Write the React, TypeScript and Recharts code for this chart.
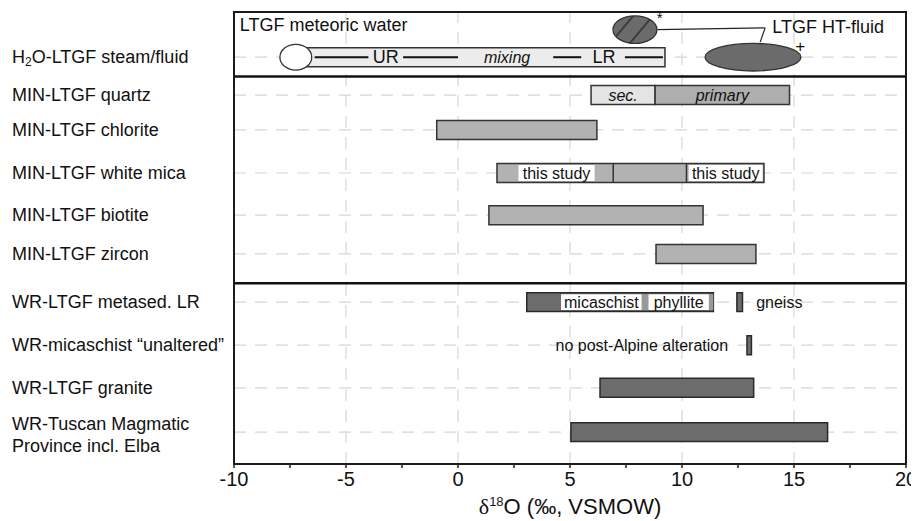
import React from "react";
import {
  ComposedChart,
  XAxis,
  YAxis,
  Scatter,
  ReferenceArea,
  ReferenceLine,
  ReferenceDot,
} from "recharts";

// Rows top to bottom. Row positions are in "row units" on the y axis (0 = top of the frame).
const rowLabels = [
  "H2O-LTGF steam/fluid",
  "MIN-LTGF quartz",
  "MIN-LTGF chlorite",
  "MIN-LTGF white mica",
  "MIN-LTGF biotite",
  "MIN-LTGF zircon",
  "WR-LTGF metased. LR",
  "WR-micaschist \u201cunaltered\u201d",
  "WR-LTGF granite",
  "WR-Tuscan Magmatic\nProvince incl. Elba",
];
const rowPos = [1.05, 1.93, 2.74, 3.74, 4.72, 5.62, 6.74, 7.74, 8.73, 9.76];
const groupBreaks = [1.5, 6.3];

const xTicks = [-10, -7.5, -5, -2.5, 0, 2.5, 5, 7.5, 10, 12.5, 15, 17.5, 20];
const gridX = [-5, 0, 5, 10, 15];

// δ18O ranges (‰)
const fluidRange = { row: 0, from: -6.75, to: 9.24 };
const fluidSegments = [
  [-6.4, -4.0],
  [-2.45, 0],
  [4.25, 5.5],
  [7.45, 9.15],
];
const fluidTags = [
  { x: -3.22, text: "UR", italic: false },
  { x: 2.19, text: "mixing", italic: true },
  { x: 6.52, text: "LR", italic: false },
];
const meteoric = { from: -7.95, to: -6.53 };
const htHatched = { from: 6.92, to: 8.88, y: 0.41 };
const htFluid = { from: 11.03, to: 15.31 };
const htConnector = [
  { x: 8.9, y: 0.41 },
  { x: 13.71, y: 0.37 },
  { x: 13.49, y: 0.7 },
];

const quartzSec = { row: 1, from: 5.94, to: 8.8, text: "sec." };
const quartzPrimary = { row: 1, from: 8.8, to: 14.8, text: "primary" };

const mineralRanges = [
  { row: 2, from: -0.95, to: 6.2 },
  { row: 3, from: 1.74, to: 13.66 },
  { row: 4, from: 1.38, to: 10.94 },
  { row: 5, from: 8.84, to: 13.3 },
];
const whiteMicaSplits = [6.93, 10.2];
const thisStudy = [
  [2.7, 6.1],
  [10.3, 13.6],
];

const rockRanges = [
  { row: 6, from: 3.07, to: 11.4 },
  { row: 6, from: 12.45, to: 12.7 },
  { row: 7, from: 12.9, to: 13.1 },
  { row: 8, from: 6.34, to: 13.2 },
  { row: 9, from: 5.04, to: 16.5 },
];
const lithologies = [
  { from: 4.6, to: 8.2, text: "micaschist" },
  { from: 8.5, to: 11.2, text: "phyllite" },
];
const lithoGaps = [
  [8.2, 8.5],
  [11.2, 11.4],
];

const notes = [
  { x: -9.74, y: 0.3, text: "LTGF meteoric water", anchor: "start", size: 18 },
  { x: 14.03, y: 0.34, text: "LTGF HT-fluid", anchor: "start", size: 18 },
  { x: 9.0, y: 0.13, text: "*", anchor: "middle", size: 15 },
  { x: 15.28, y: 0.81, text: "+", anchor: "middle", size: 17 },
  { x: 13.31, y: rowPos[6], text: "gneiss", anchor: "start", size: 16 },
  { x: 12.06, y: rowPos[7], text: "no post-Alpine alteration", anchor: "end", size: 16 },
];

const HALF = 0.22; // half bar height, row units
const INNER = 0.185;
const STROKE = "#333";
const INK = "#111";

function RowTick(props: any) {
  const { y, payload } = props;
  const i = rowPos.indexOf(payload.value);
  const label = rowLabels[i] ?? "";
  if (label.startsWith("H2O")) {
    return (
      <text x={4} y={y} dominantBaseline="central" fontSize={18} fill={INK}>
        H
        <tspan dy={5} fontSize={12}>
          2
        </tspan>
        <tspan dy={-5}>{label.slice(2)}</tspan>
      </text>
    );
  }
  const lines = label.split("\n");
  if (lines.length > 1) {
    return (
      <g>
        <text x={4} y={y - 8} dominantBaseline="central" fontSize={18} fill={INK}>
          {lines[0]}
        </text>
        <text x={4} y={y + 14} dominantBaseline="central" fontSize={18} fill={INK}>
          {lines[1]}
        </text>
      </g>
    );
  }
  return (
    <text x={4} y={y} dominantBaseline="central" fontSize={18} fill={INK}>
      {label}
    </text>
  );
}

function AxisTitle(props: any) {
  const { x, y, width } = props.viewBox;
  return (
    <text x={x + width / 2} y={y + 50} textAnchor="middle" fontSize={22} fill={INK}>
      <tspan fontFamily="Liberation Serif, serif">δ</tspan>
      <tspan fontSize={13} dy={-8}>
        18
      </tspan>
      <tspan dy={8}>O (‰, VSMOW)</tspan>
    </text>
  );
}

const ellipse = (fill: string) => (p: any) => (
  <ellipse
    cx={p.x + p.width / 2}
    cy={p.y + p.height / 2}
    rx={Math.abs(p.width) / 2}
    ry={Math.abs(p.height) / 2}
    fill={fill}
    stroke={STROKE}
    strokeWidth={1.3}
  />
);

const tagLabel = (text: string, italic = false, size = 16) => ({
  value: text,
  position: "center" as const,
  fontSize: size,
  fill: INK,
  fontStyle: italic ? "italic" : "normal",
});

export default function App() {
  return (
    <div style={{ width: 911, height: 513, fontFamily: "Liberation Sans, Arial, sans-serif" }}>
      <ComposedChart width={911} height={513} margin={{ top: 4, right: 13, bottom: 0, left: 0 }}>
        <defs>
          <pattern id="hatch" width="15" height="15" patternUnits="userSpaceOnUse" patternTransform="rotate(40)">
            <rect width="15" height="15" fill="#6b6b6b" />
            <line x1="4" y1="0" x2="4" y2="15" stroke="#222" strokeWidth="1.3" />
          </pattern>
        </defs>
        <XAxis
          type="number"
          dataKey="x"
          domain={[-10, 20]}
          ticks={xTicks}
          interval={0}
          height={57}
          axisLine={false}
          tickSize={4}
          tickMargin={4}
          tickLine={{ stroke: "#222", strokeWidth: 1.5 }}
          tick={{ fontSize: 20, fill: INK }}
          tickFormatter={(v: number) => (v % 5 === 0 ? String(v) : "")}
          label={<AxisTitle />}
        />
        <YAxis
          type="number"
          dataKey="y"
          domain={[0, 10.5]}
          reversed
          ticks={rowPos}
          interval={0}
          width={226}
          axisLine={false}
          tickLine={false}
          tick={RowTick}
        />

        {/* dashed grid */}
        {gridX.map((v) => (
          <ReferenceLine key={"gx" + v} x={v} stroke="#d6d6d6" strokeWidth={1.2} strokeDasharray="12 9" zIndex={-50} />
        ))}
        {rowPos.map((v) => (
          <ReferenceLine key={"gy" + v} y={v} stroke="#d6d6d6" strokeWidth={1.2} strokeDasharray="12 9" zIndex={-50} />
        ))}

        {/* steam / fluid row */}
        <ReferenceArea
          x1={fluidRange.from}
          x2={fluidRange.to}
          y1={rowPos[fluidRange.row] - HALF}
          y2={rowPos[fluidRange.row] + HALF}
          fill="#ececec"
          stroke={STROKE}
          strokeWidth={1.5}
          fillOpacity={1}
          zIndex={100}
        />
        {fluidSegments.map(([a, b]) => (
          <ReferenceLine
            key={"fs" + a}
            segment={[
              { x: a, y: rowPos[0] },
              { x: b, y: rowPos[0] },
            ]}
            stroke="#111"
            strokeWidth={2}
            zIndex={200}
          />
        ))}
        {fluidTags.map((t) => (
          <ReferenceDot
            key={"ft" + t.text}
            x={t.x}
            y={rowPos[0]}
            r={0}
            zIndex={2000}
            shape={(p: any) => (
              <text
                x={p.cx}
                y={p.cy}
                textAnchor="middle"
                dominantBaseline="central"
                fontSize={t.italic ? 16 : 18}
                fontStyle={t.italic ? "italic" : "normal"}
                fill={INK}
              >
                {t.text}
              </text>
            )}
          />
        ))}
        <ReferenceArea
          x1={meteoric.from}
          x2={meteoric.to}
          y1={rowPos[0] - 0.3}
          y2={rowPos[0] + 0.3}
          shape={ellipse("#fff")}
          zIndex={250}
        />
        <ReferenceArea
          x1={htHatched.from}
          x2={htHatched.to}
          y1={htHatched.y - 0.32}
          y2={htHatched.y + 0.32}
          shape={ellipse("url(#hatch)")}
          zIndex={250}
        />
        <ReferenceArea
          x1={htFluid.from}
          x2={htFluid.to}
          y1={rowPos[0] - 0.32}
          y2={rowPos[0] + 0.32}
          shape={ellipse("#6b6b6b")}
          zIndex={250}
        />
        {htConnector.slice(1).map((pt, i) => (
          <ReferenceLine
            key={"hc" + i}
            segment={[htConnector[i], pt]}
            stroke="#222"
            strokeWidth={1.2}
            zIndex={260}
          />
        ))}

        {/* quartz */}
        <ReferenceArea
          x1={quartzSec.from}
          x2={quartzSec.to}
          y1={rowPos[1] - HALF}
          y2={rowPos[1] + HALF}
          fill="#e4e4e4"
          fillOpacity={1}
          stroke={STROKE}
          strokeWidth={1.5}
          label={tagLabel(quartzSec.text, true)}
          zIndex={100}
        />
        <ReferenceArea
          x1={quartzPrimary.from}
          x2={quartzPrimary.to}
          y1={rowPos[1] - HALF}
          y2={rowPos[1] + HALF}
          fill="#aeaeae"
          fillOpacity={1}
          stroke={STROKE}
          strokeWidth={1.5}
          label={tagLabel(quartzPrimary.text, true)}
          zIndex={100}
        />

        {/* minerals */}
        {mineralRanges.map((r) => (
          <ReferenceArea
            key={"m" + r.row}
            x1={r.from}
            x2={r.to}
            y1={rowPos[r.row] - HALF}
            y2={rowPos[r.row] + HALF}
            fill="#b2b2b2"
            fillOpacity={1}
            stroke={STROKE}
            strokeWidth={1.5}
            zIndex={100}
          />
        ))}
        {thisStudy.map(([a, b]) => (
          <ReferenceArea
            key={"ts" + a}
            x1={a}
            x2={b}
            y1={rowPos[3] - INNER}
            y2={rowPos[3] + INNER}
            fill="#fff"
            fillOpacity={1}
            stroke="none"
            label={tagLabel("this study")}
            zIndex={150}
          />
        ))}
        {whiteMicaSplits.map((v) => (
          <ReferenceLine
            key={"wm" + v}
            segment={[
              { x: v, y: rowPos[3] - HALF },
              { x: v, y: rowPos[3] + HALF },
            ]}
            stroke={STROKE}
            strokeWidth={1.5}
            zIndex={200}
          />
        ))}

        {/* whole rock */}
        {rockRanges.map((r, i) => (
          <ReferenceArea
            key={"r" + i}
            x1={r.from}
            x2={r.to}
            y1={rowPos[r.row] - HALF}
            y2={rowPos[r.row] + HALF}
            fill="#6c6c6c"
            fillOpacity={1}
            stroke="#2a2a2a"
            strokeWidth={1.5}
            zIndex={100}
          />
        ))}
        {lithoGaps.map(([a, b]) => (
          <ReferenceArea
            key={"lg" + a}
            x1={a}
            x2={b}
            y1={rowPos[6] - INNER}
            y2={rowPos[6] + INNER}
            fill="#999"
            fillOpacity={1}
            stroke="none"
            zIndex={150}
          />
        ))}
        {lithologies.map((l) => (
          <ReferenceArea
            key={"li" + l.text}
            x1={l.from}
            x2={l.to}
            y1={rowPos[6] - INNER}
            y2={rowPos[6] + INNER}
            fill="#fff"
            fillOpacity={1}
            stroke="none"
            label={tagLabel(l.text)}
            zIndex={150}
          />
        ))}

        {/* free text */}
        {notes.map((n) => (
          <ReferenceDot
            key={"n" + n.text}
            x={n.x}
            y={n.y}
            r={0}
            zIndex={2000}
            shape={(p: any) => (
              <text
                x={p.cx}
                y={p.cy}
                textAnchor={n.anchor as any}
                dominantBaseline="central"
                fontSize={n.size}
                fill={INK}
              >
                {n.text}
              </text>
            )}
          />
        ))}

        {/* group separators and frame */}
        {groupBreaks.map((v) => (
          <ReferenceLine key={"gb" + v} y={v} stroke="#111" strokeWidth={2.5} zIndex={300} />
        ))}
        <ReferenceArea
          x1={-10}
          x2={20}
          y1={0}
          y2={10.5}
          fill="none"
          stroke="#1a1a1a"
          strokeWidth={2}
          ifOverflow="visible"
          zIndex={300}
        />

        <Scatter
          data={rowPos.map((y) => ({ x: -10, y }))}
          shape={() => <g />}
          isAnimationActive={false}
        />
      </ComposedChart>
    </div>
  );
}
